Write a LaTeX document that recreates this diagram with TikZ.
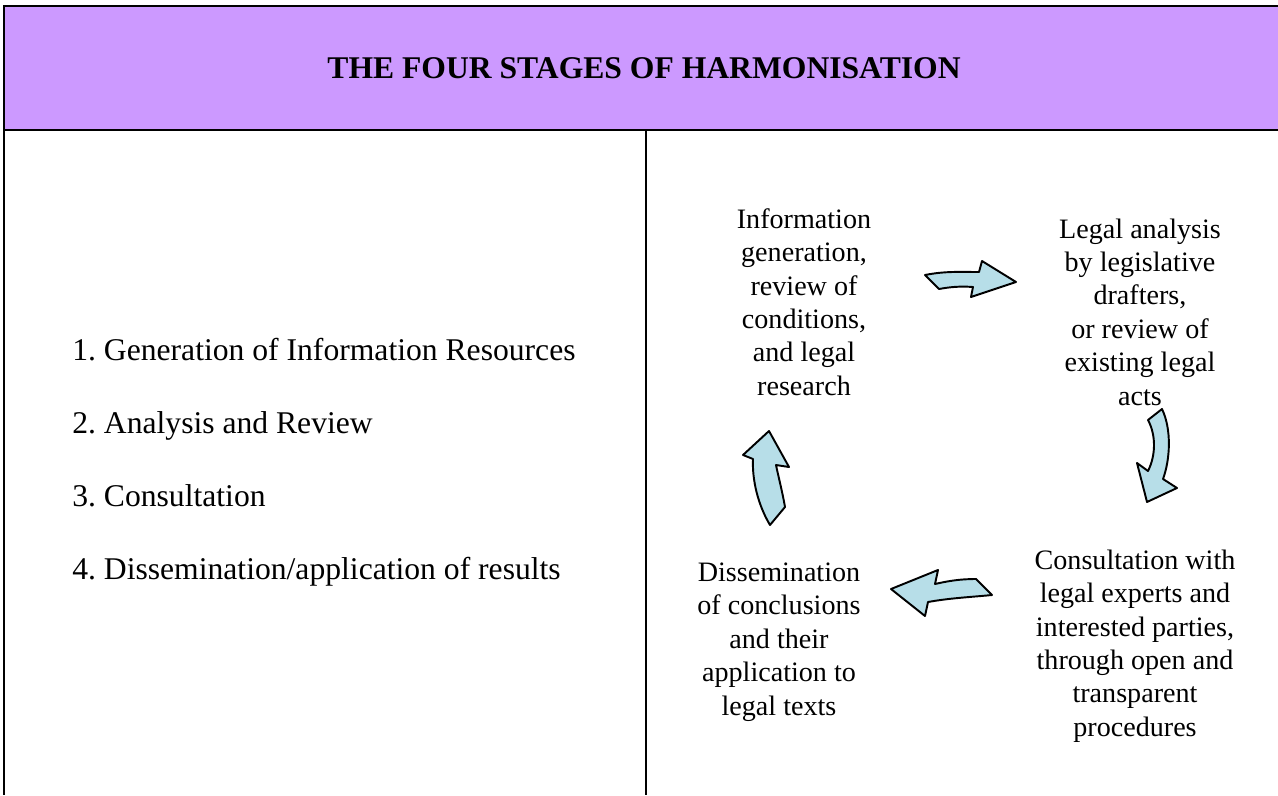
\documentclass[tikz,border=0pt]{standalone}
\usepackage{fontspec}
\setmainfont{Liberation Serif}
\definecolor{headviolet}{HTML}{CC99FF}
\definecolor{arrowcyan}{HTML}{B7DEE8}
\tikzset{
  cyclebox/.style={align=center, inner sep=0pt, font=\fontsize{16}{19}\selectfont},
  stagetext/.style={anchor=base west, inner sep=0pt, font=\fontsize{18}{22}\selectfont},
  bentarrow/.style={fill=arrowcyan, draw=black, line width=1.1pt, line join=round}
}
\begin{document}
\begin{tikzpicture}[x=0.02cm, y=-0.02cm]
\useasboundingbox (0,0) rectangle (1278,795);
% table
\fill[headviolet] (4,6) rectangle (1278,130);
\draw[line width=1.2pt] (1278,6) -- (4,6) -- (4,795);
\draw[line width=1.2pt] (4,130) -- (1278,130);
\draw[line width=1.2pt] (646,130) -- (646,795);
\node[font=\fontsize{18}{22}\selectfont\bfseries] (title) at (644,68) {THE FOUR STAGES OF HARMONISATION};
% left column
\foreach \t [count=\i] in {Generation of Information Resources, Analysis and Review, Consultation, Dissemination/application of results}{
  \node[stagetext] (stage\i) at (72,{360+73*(\i-1)}) {\i.\ \t};
}
% right column
\node[cyclebox] (info) at (804,302) {Information\\generation,\\review of\\conditions,\\and legal\\research};
\node[cyclebox] (legal) at (1140,312) {Legal analysis\\by legislative\\drafters,\\or review of\\existing legal\\acts};
\node[cyclebox] (consult) at (1135,646) {Consultation with\\legal experts and\\interested parties,\\through open and\\transparent\\procedures};
\node[cyclebox] (dissem) at (779,642) {Dissemination\\of conclusions\\and their\\application to\\legal texts};
% arrows
\draw[bentarrow] (925,275) .. controls (945,271) and (960,272) .. (979,272) -- (982,261) -- (1016,282) -- (971,297) -- (973,287)
  .. controls (960,286) and (950,287) .. (939,289) -- cycle;
\draw[bentarrow] (1162,409) .. controls (1172,430) and (1170,460) .. (1163,479) -- (1177,488) -- (1147,502) -- (1137,463) -- (1148,471)
  .. controls (1156,455) and (1156,435) .. (1148,420) -- cycle;
\draw[bentarrow] (976,579) .. controls (960,579) and (948,581) .. (935,584) -- (938,570) -- (891,589) -- (925,616) -- (928,602)
  .. controls (950,598) and (972,597) .. (992,595) -- cycle;
\draw[bentarrow] (785,507) .. controls (782,490) and (778,475) .. (776,465) -- (789,467) -- (769,431) -- (743,455) -- (753,459)
  .. controls (752,480) and (758,505) .. (770,525) -- cycle;
\end{tikzpicture}
\end{document}
